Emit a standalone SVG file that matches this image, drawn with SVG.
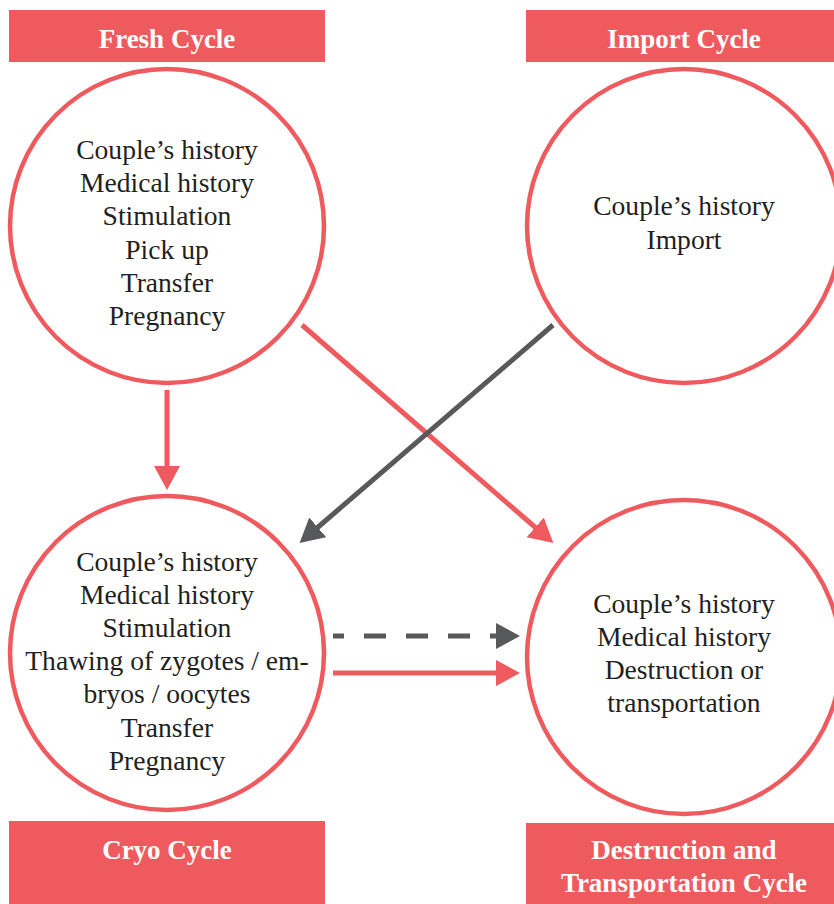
<svg xmlns="http://www.w3.org/2000/svg" width="834" height="904" viewBox="0 0 834 904">
<style>
.lab{fill:#ef5a5e}
.labt{font-family:"Liberation Serif","DejaVu Serif",serif;font-weight:bold;font-size:27px;fill:#ffffff;text-anchor:middle}
.circ{fill:#ffffff;stroke:#ef5a5e;stroke-width:4.5}
.body{font-family:"Liberation Serif","DejaVu Serif",serif;font-size:27.6px;fill:#231f20;text-anchor:middle}
.red{stroke:#ef5a5e;stroke-width:5;fill:none}
.gray{stroke:#58595b;stroke-width:5;fill:none}
</style>
<defs>
<marker id="ahR" viewBox="0 0 24 26" refX="1" refY="13" markerWidth="24" markerHeight="26" markerUnits="userSpaceOnUse" orient="auto">
<path d="M0,0 L24,13 L0,26 Z" fill="#ef5a5e"/>
</marker>
<marker id="ahG" viewBox="0 0 24 26" refX="1" refY="13" markerWidth="24" markerHeight="26" markerUnits="userSpaceOnUse" orient="auto">
<path d="M0,0 L24,13 L0,26 Z" fill="#58595b"/>
</marker>
</defs>
<rect width="834" height="904" fill="#ffffff"/>

<g id="fresh">
<rect class="lab" x="9" y="10" width="316" height="52"/>
<text class="labt" x="167" y="48">Fresh Cycle</text>
<circle class="circ" cx="167" cy="226" r="157"/>
<text class="body" x="167" y="159">Couple’s history</text>
<text class="body" x="167" y="192">Medical history</text>
<text class="body" x="167" y="225">Stimulation</text>
<text class="body" x="167" y="259">Pick up</text>
<text class="body" x="167" y="292">Transfer</text>
<text class="body" x="167" y="325">Pregnancy</text>
</g>

<g id="import">
<rect class="lab" x="526" y="10" width="310" height="52"/>
<text class="labt" x="684" y="48">Import Cycle</text>
<circle class="circ" cx="684" cy="226" r="157"/>
<text class="body" x="684" y="215">Couple’s history</text>
<text class="body" x="684" y="249">Import</text>
</g>

<g id="cryo">
<circle class="circ" cx="167" cy="653" r="157"/>
<text class="body" x="167" y="571">Couple’s history</text>
<text class="body" x="167" y="604">Medical history</text>
<text class="body" x="167" y="637">Stimulation</text>
<text class="body" x="167" y="670">Thawing of zygotes / em-</text>
<text class="body" x="167" y="703">bryos / oocytes</text>
<text class="body" x="167" y="737">Transfer</text>
<text class="body" x="167" y="770">Pregnancy</text>
<rect class="lab" x="9" y="821" width="316" height="83"/>
<text class="labt" x="167" y="859">Cryo Cycle</text>
</g>

<g id="destruction">
<circle class="circ" cx="684" cy="657" r="157"/>
<text class="body" x="684" y="613">Couple’s history</text>
<text class="body" x="684" y="646">Medical history</text>
<text class="body" x="684" y="679">Destruction or</text>
<text class="body" x="684" y="712">transportation</text>
<rect class="lab" x="526" y="823" width="310" height="81"/>
<text class="labt" x="684" y="859">Destruction and</text>
<text class="labt" x="684" y="892">Transportation Cycle</text>
</g>

<g id="connectors">
<line class="red" x1="167" y1="390" x2="167" y2="467" marker-end="url(#ahR)"/>
<line class="red" x1="302" y1="325" x2="536" y2="528" marker-end="url(#ahR)"/>
<line class="gray" x1="553" y1="325" x2="317" y2="528" marker-end="url(#ahG)"/>
<line class="gray" x1="333" y1="636" x2="497" y2="636" stroke-dasharray="22 20" stroke-dashoffset="11" marker-end="url(#ahG)"/>
<line class="red" x1="333" y1="673" x2="497" y2="673" marker-end="url(#ahR)"/>
</g>
</svg>
